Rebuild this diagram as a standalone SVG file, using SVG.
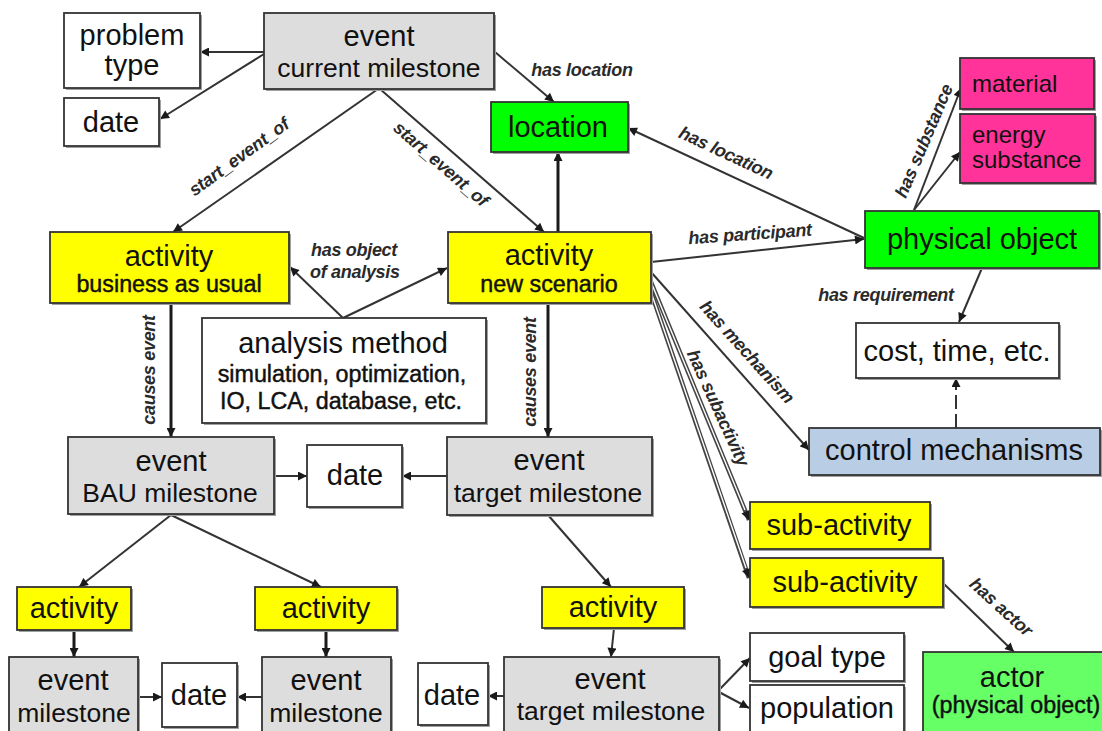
<svg xmlns="http://www.w3.org/2000/svg" width="1102" height="731" viewBox="0 0 1102 731">
  <style>
    .box { stroke: #333; stroke-width: 1.8; }
    .sh { fill: #a0a0a0; }
    .ev { fill: #dddddd; }
    .ac { fill: #ffff00; }
    .gr { fill: #00ff00; }
    .pk { fill: #ff3399; }
    .bl { fill: #b9cde5; }
    .wh { fill: #ffffff; }
    .lg { fill: #66ff66; }
    text { font-family: "Liberation Sans", Arial, sans-serif; fill: #111; }
    .t { font-size: 29px; text-anchor: middle; }
    .tm { font-size: 26.5px; text-anchor: middle; }
    .ts { font-size: 23.3px; text-anchor: middle; stroke: #111; stroke-width: 0.45px; }
    .tp { font-size: 24px; }
    .lbl { font-size: 18px; font-weight: bold; font-style: italic; fill: #2a2a2a; text-anchor: middle; letter-spacing: -0.3px; }
    .ln { fill: none; stroke: #333; stroke-width: 2; marker-end: url(#ah); }
    .thick { stroke: #1a1a1a; stroke-width: 3; }
    .dbl { fill: none; stroke: #444; stroke-width: 4.5; marker-end: url(#ah); }
    .dblin { fill: none; stroke: #fff; stroke-width: 1.4; }
  </style>
  <defs>
    <marker id="ah" viewBox="0 0 10 10" refX="10" refY="5" markerWidth="10" markerHeight="9" markerUnits="userSpaceOnUse" orient="auto">
      <path d="M0,0 L10,5 L0,10 z" fill="#1a1a1a"/>
    </marker>
  </defs>
  <rect width="1102" height="731" fill="#ffffff"/>

  <!-- connectors -->
  <g id="connectors">
    <path class="ln" d="M264,52 L200,52"/>
    <path class="ln" d="M264,54 L160,119"/>
    <path class="ln" d="M378,89 L173,232"/>
    <path class="ln" d="M380,89 L544,232"/>
    <path class="ln" d="M495,52 L554,102"/>
    <path class="ln thick" d="M558,232 L558,152"/>
    <path class="ln" d="M864,238 L628,128"/>
    <path class="ln" d="M651,262 L864,239"/>
    <path class="ln" d="M914,210 L961,88"/>
    <path class="ln" d="M914,210 L960,152"/>
    <path class="ln" d="M982,268 L959,322"/>
    <path class="ln" d="M956,428 L956,378" stroke-dasharray="14 5"/>
    <path class="ln" d="M651,272 L809,450"/>
    <path class="dbl" d="M651,282 L749,520"/>
    <path class="dblin" d="M651,282 L745,510"/>
    <path class="dbl" d="M651,292 L749,578"/>
    <path class="dblin" d="M651,292 L746,568"/>
    <path class="ln thick" d="M171,303 L171,437"/>
    <path class="ln thick" d="M548,303 L548,437"/>
    <path class="ln" d="M343,318 L290,267"/>
    <path class="ln" d="M343,318 L447,268"/>
    <path class="ln" d="M274,476 L307,476"/>
    <path class="ln" d="M447,476 L402,476"/>
    <path class="ln" d="M171,515 L79,587"/>
    <path class="ln" d="M171,515 L321,587"/>
    <path class="ln" d="M548,515 L611,587"/>
    <path class="ln thick" d="M74,630 L74,657"/>
    <path class="ln thick" d="M326,630 L326,657"/>
    <path class="ln" d="M614,628 L611,657"/>
    <path class="ln" d="M138,697 L162,697"/>
    <path class="ln" d="M262,697 L237,697"/>
    <path class="ln" d="M504,696 L488,696"/>
    <path class="ln" d="M719,690 L750,658"/>
    <path class="ln" d="M719,692 L749,708"/>
    <path class="ln" d="M943,583 L1014,652"/>

    <!-- relation labels -->
    <text class="lbl" x="582" y="76">has location</text>
    <text class="lbl" transform="translate(239,157) rotate(-36)" y="6">start_event_of</text>
    <text class="lbl" transform="translate(441,164) rotate(41)" y="6">start_event_of</text>
    <text class="lbl" transform="translate(726,153) rotate(25)" y="6">has location</text>
    <text class="lbl" transform="translate(924,141) rotate(-67)" y="6">has substance</text>
    <text class="lbl" transform="translate(750,234) rotate(-4)" y="6">has participant</text>
    <text class="lbl" x="886" y="301">has requirement</text>
    <text class="lbl" style="text-anchor:start" x="311" y="256">has object</text>
    <text class="lbl" style="text-anchor:start" x="310" y="278">of analysis</text>
    <text class="lbl" transform="translate(149,370) rotate(-90)" y="6">causes event</text>
    <text class="lbl" transform="translate(530,372) rotate(-90)" y="6">causes event</text>
    <text class="lbl" transform="translate(747,352) rotate(48)" y="6">has mechanism</text>
    <text class="lbl" transform="translate(718,408) rotate(65.5)" y="6">has subactivity</text>
    <text class="lbl" transform="translate(1001,607) rotate(42)" y="6">has actor</text>
  </g>

  <!-- nodes -->
  <g id="problem-type">
    <rect class="sh" x="66" y="15" width="136" height="75"/>
    <rect class="box wh" x="64" y="13" width="136" height="75"/>
    <text class="t" x="132" y="45">problem</text>
    <text class="t" x="132" y="75">type</text>
  </g>
  <g id="date-current">
    <rect class="sh" x="66" y="100" width="95" height="48"/>
    <rect class="box wh" x="64" y="98" width="95" height="48"/>
    <text class="t" x="111" y="132">date</text>
  </g>
  <g id="event-current">
    <rect class="sh" x="266" y="15" width="230" height="76"/>
    <rect class="box ev" x="264" y="13" width="230" height="76"/>
    <text class="t" x="379" y="46">event</text>
    <text class="tm" x="379" y="77">current milestone</text>
  </g>
  <g id="location">
    <rect class="sh" x="493" y="104" width="137" height="50"/>
    <rect class="box gr" x="491" y="102" width="137" height="50"/>
    <text class="t" x="558" y="137">location</text>
  </g>
  <g id="material">
    <rect class="sh" x="962" y="60" width="134" height="51"/>
    <rect class="box pk" x="960" y="58" width="134" height="51"/>
    <text class="tp" x="972" y="92">material</text>
  </g>
  <g id="energy-substance">
    <rect class="sh" x="962" y="116" width="135" height="69"/>
    <rect class="box pk" x="960" y="114" width="135" height="69"/>
    <text class="tp" x="972" y="143">energy</text>
    <text class="tp" x="972" y="168">substance</text>
  </g>
  <g id="physical-object">
    <rect class="sh" x="867" y="213" width="234" height="57"/>
    <rect class="box gr" x="865" y="211" width="234" height="57"/>
    <text class="t" x="982" y="249">physical object</text>
  </g>
  <g id="activity-bau">
    <rect class="sh" x="52" y="234" width="239" height="71"/>
    <rect class="box ac" x="50" y="232" width="239" height="71"/>
    <text class="t" x="169" y="266">activity</text>
    <text class="ts" x="169" y="292">business as usual</text>
  </g>
  <g id="activity-new">
    <rect class="sh" x="450" y="234" width="203" height="71"/>
    <rect class="box ac" x="448" y="232" width="203" height="71"/>
    <text class="t" x="549" y="265">activity</text>
    <text class="ts" x="549" y="292">new scenario</text>
  </g>
  <g id="analysis-method">
    <rect class="sh" x="204" y="320" width="284" height="105"/>
    <rect class="box wh" x="202" y="318" width="284" height="105"/>
    <text class="t" x="343" y="353">analysis method</text>
    <text class="ts" x="342" y="382">simulation, optimization,</text>
    <text class="ts" x="341" y="409">IO, LCA, database, etc.</text>
  </g>
  <g id="cost-time">
    <rect class="sh" x="858" y="325" width="203" height="55"/>
    <rect class="box wh" x="856" y="323" width="203" height="55"/>
    <text class="t" x="957" y="361">cost, time, etc.</text>
  </g>
  <g id="control-mechanisms">
    <rect class="sh" x="811" y="430" width="291" height="47"/>
    <rect class="box bl" x="809" y="428" width="291" height="47"/>
    <text class="t" x="954" y="460">control mechanisms</text>
  </g>
  <g id="event-bau">
    <rect class="sh" x="70" y="439" width="206" height="77"/>
    <rect class="box ev" x="68" y="437" width="206" height="77"/>
    <text class="t" x="171" y="471">event</text>
    <text class="tm" x="170" y="502">BAU milestone</text>
  </g>
  <g id="date-mid">
    <rect class="sh" x="309" y="447" width="95" height="62"/>
    <rect class="box wh" x="307" y="445" width="95" height="62"/>
    <text class="t" x="355" y="485">date</text>
  </g>
  <g id="event-target">
    <rect class="sh" x="449" y="439" width="205" height="78"/>
    <rect class="box ev" x="447" y="437" width="205" height="78"/>
    <text class="t" x="549" y="470">event</text>
    <text class="tm" x="548" y="502">target milestone</text>
  </g>
  <g id="sub-activity-1">
    <rect class="sh" x="752" y="504" width="180" height="47"/>
    <rect class="box ac" x="750" y="502" width="180" height="47"/>
    <text class="t" x="839" y="535">sub-activity</text>
  </g>
  <g id="sub-activity-2">
    <rect class="sh" x="752" y="560" width="193" height="49"/>
    <rect class="box ac" x="750" y="558" width="193" height="49"/>
    <text class="t" x="845" y="592">sub-activity</text>
  </g>
  <g id="activity-left">
    <rect class="sh" x="19" y="589" width="114" height="43"/>
    <rect class="box ac" x="17" y="587" width="114" height="43"/>
    <text class="t" x="74" y="618">activity</text>
  </g>
  <g id="activity-middle">
    <rect class="sh" x="257" y="589" width="142" height="43"/>
    <rect class="box ac" x="255" y="587" width="142" height="43"/>
    <text class="t" x="326" y="618">activity</text>
  </g>
  <g id="activity-right">
    <rect class="sh" x="544" y="589" width="142" height="41"/>
    <rect class="box ac" x="542" y="587" width="142" height="41"/>
    <text class="t" x="613" y="617">activity</text>
  </g>
  <g id="event-milestone-left">
    <rect class="sh" x="11" y="659" width="129" height="76"/>
    <rect class="box ev" x="9" y="657" width="129" height="76"/>
    <text class="t" x="73" y="690">event</text>
    <text class="tm" x="74" y="722">milestone</text>
  </g>
  <g id="date-left">
    <rect class="sh" x="164" y="665" width="75" height="64"/>
    <rect class="box wh" x="162" y="663" width="75" height="64"/>
    <text class="t" x="199" y="705">date</text>
  </g>
  <g id="event-milestone-middle">
    <rect class="sh" x="264" y="659" width="129" height="76"/>
    <rect class="box ev" x="262" y="657" width="129" height="76"/>
    <text class="t" x="326" y="690">event</text>
    <text class="tm" x="326" y="722">milestone</text>
  </g>
  <g id="date-right">
    <rect class="sh" x="420" y="665" width="70" height="62"/>
    <rect class="box wh" x="418" y="663" width="70" height="62"/>
    <text class="t" x="452" y="705">date</text>
  </g>
  <g id="event-target-bottom">
    <rect class="sh" x="506" y="659" width="215" height="76"/>
    <rect class="box ev" x="504" y="657" width="215" height="76"/>
    <text class="t" x="610" y="689">event</text>
    <text class="tm" x="611" y="720">target milestone</text>
  </g>
  <g id="goal-type">
    <rect class="sh" x="752" y="635" width="154" height="48"/>
    <rect class="box wh" x="750" y="633" width="154" height="48"/>
    <text class="t" x="827" y="667">goal type</text>
  </g>
  <g id="population">
    <rect class="sh" x="752" y="687" width="154" height="48"/>
    <rect class="box wh" x="750" y="685" width="154" height="48"/>
    <text class="t" x="827" y="718">population</text>
  </g>
  <g id="actor">
    <rect class="sh" x="925" y="654" width="183" height="81"/>
    <rect class="box lg" x="923" y="652" width="183" height="81"/>
    <text class="t" x="1012" y="687">actor</text>
    <text class="ts" x="1016" y="713">(physical object)</text>
  </g>
</svg>
